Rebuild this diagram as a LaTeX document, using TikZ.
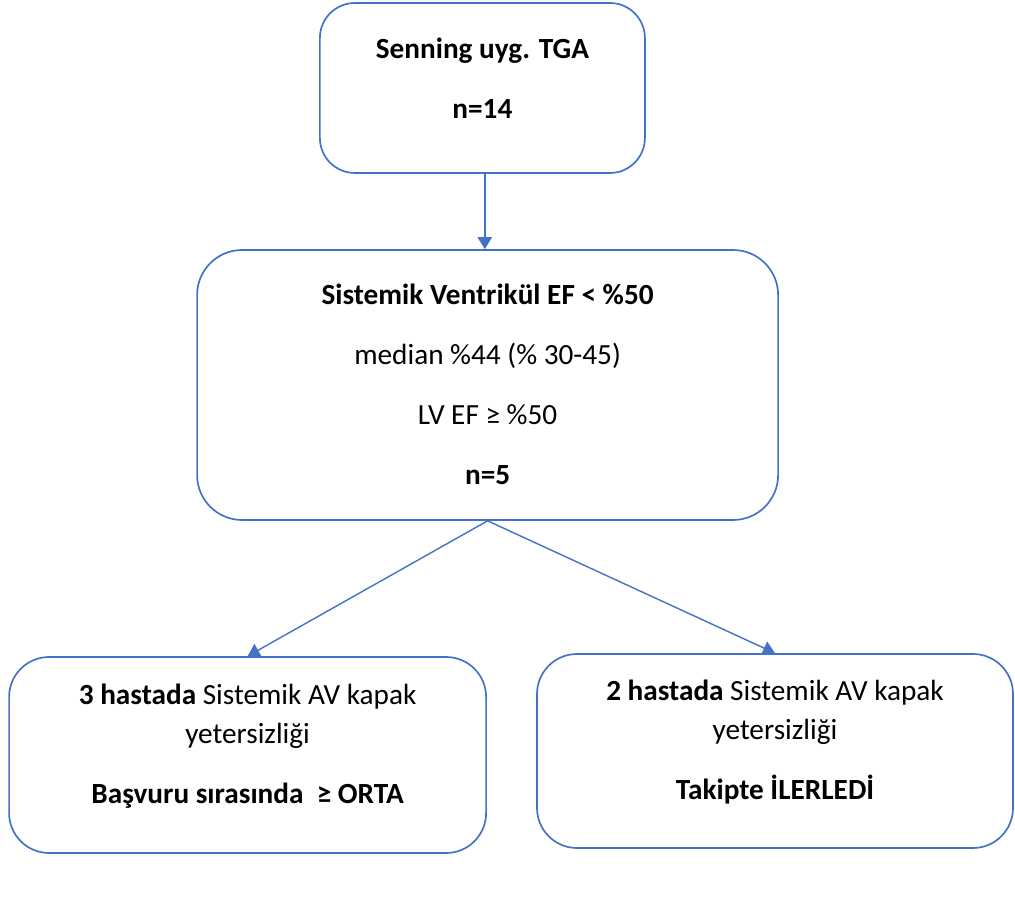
\documentclass[tikz,border=0pt]{standalone}
\usepackage{fontspec}
\setmainfont{Carlito}
\usepackage{xcolor}
\usepackage{tikz}
\usetikzlibrary{positioning}
\usetikzlibrary{arrows.meta}
\definecolor{ofisblue}{RGB}{68,114,196}
\tikzstyle{kutu} = [rectangle, draw=ofisblue, line width=1.2pt, fill=none]
\tikzstyle{yazi} = [align=center, inner sep=0pt, font=\fontsize{20.8}{27.7}\selectfont]
\tikzstyle{ok} = [draw=ofisblue, line width=1pt, -{Triangle[width=0.36cm,length=0.3cm]}]

\begin{document}
\begin{tikzpicture}
\useasboundingbox (0,0) rectangle (25.375,22.6);
% boxes
\node[kutu, rounded corners=0.875cm, minimum width=8.125cm, minimum height=4.25cm] (senning) at (12.06,20.4) {};
\node[kutu, rounded corners=1.125cm, minimum width=14.525cm, minimum height=6.75cm] (ventrikul) at (12.19,12.975) {};
\node[kutu, rounded corners=1cm, minimum width=11.925cm, minimum height=4.9cm] (basvuru) at (6.19,3.725) {};
\node[kutu, rounded corners=1cm, minimum width=11.9cm, minimum height=4.85cm] (takip) at (19.375,3.825) {};
% texts
\node[yazi] (senningtxt) at (12.06,20.65) {\textbf{Senning uyg. TGA}\\[15pt]\textbf{n=14}};
\node[yazi] (ventrikultxt) at (12.19,13.0) {\textbf{Sistemik Ventrikül EF < \%50}\\[15pt]
  median \%44 (\% 30-45)\\[15pt]LV EF ≥ \%50\\[15pt]\textbf{n=5}};
\node[yazi] (basvurutxt) at (6.19,3.95) {\textbf{3 hastada} Sistemik AV kapak\\yetersizliği\\[15pt]
  \textbf{Başvuru sırasında\ \ ≥ ORTA}};
\node[yazi] (takiptxt) at (19.375,4.05) {\textbf{2 hastada} Sistemik AV kapak\\yetersizliği\\[15pt]
  \textbf{Takipte İLERLEDİ}};
% arrows
\draw[ok] ([xshift=0.06cm]senning.south) -- ([xshift=0.06cm]senning.south |- ventrikul.north);
\draw[ok] (ventrikul.south) -- (basvuru.north);
\draw[ok] (ventrikul.south) -- (takip.north);
\end{tikzpicture}
\end{document}
